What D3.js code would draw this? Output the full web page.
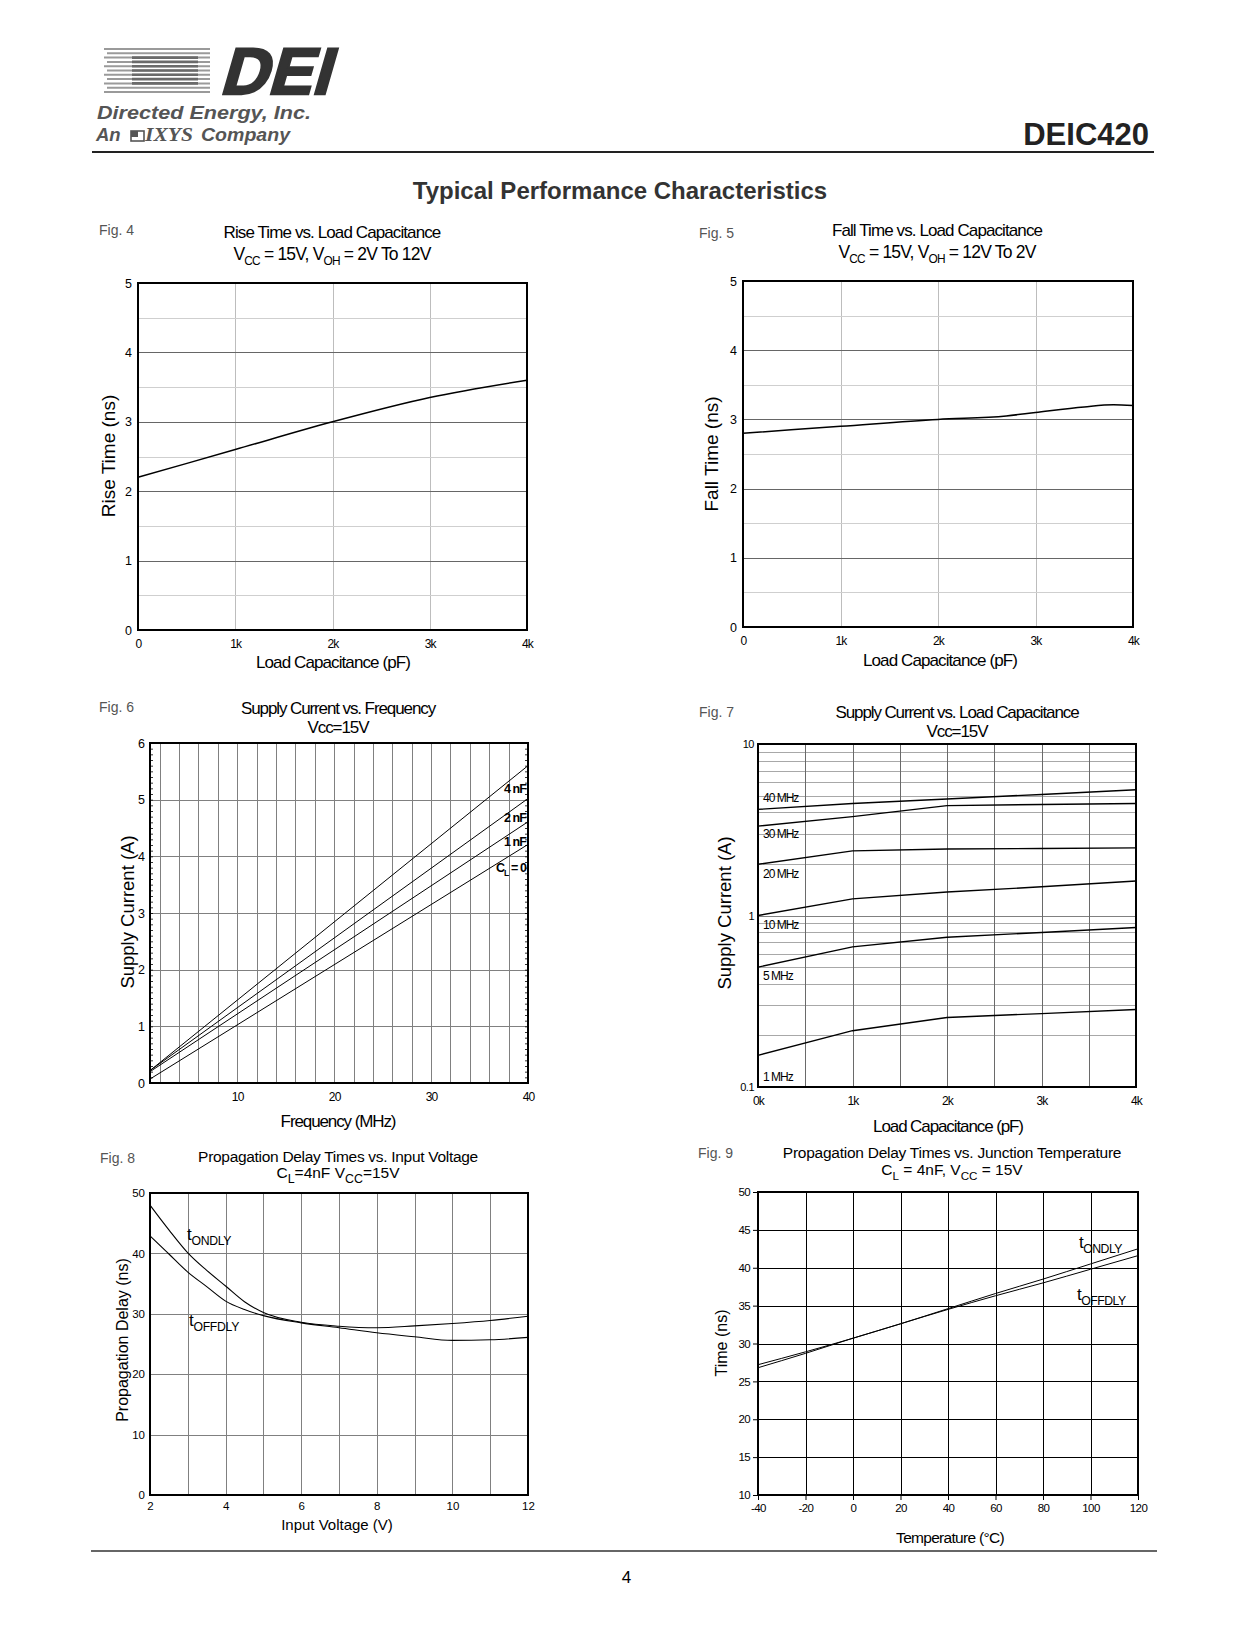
<!DOCTYPE html>
<html><head><meta charset="utf-8">
<script src="https://cdn.jsdelivr.net/npm/d3@7"></script>
<style>body{margin:0;background:#fff}svg{display:block}</style>
</head><body>
<script>
// ---------------- DATA ----------------
// Fig 4: Rise time vs load capacitance
const riseCap = [0, 1000, 2000, 3000, 4000];
const riseTime = [2.2, 2.6, 3.0, 3.35, 3.6];
// Fig 5: Fall time vs load capacitance
const fallCap = [0, 1000, 2000, 2700, 3000, 3500, 3800, 4000];
const fallTime = [2.8, 2.9, 3.0, 3.05, 3.1, 3.18, 3.21, 3.2];
// Fig 6: Supply current vs frequency (straight lines, end points)
const freqMHz = [1, 40];
const icc4nF = [0.22, 5.6];
const icc2nF = [0.22, 5.02];
const icc1nF = [0.2, 4.61];
const icc0nF = [0.07, 4.21];
const fig6Labels = ["4 nF", "2 nF", "1 nF", "CL = 0"];
// Fig 7: Supply current vs load capacitance
const loadCap7 = [0, 1000, 2000, 3000, 4000];
const icc40MHz = [4.16, 4.5, 4.78, 5.08, 5.41];
const icc30MHz = [3.32, 3.77, 4.37, 4.44, 4.5];
const icc20MHz = [1.99, 2.38, 2.44, 2.46, 2.48];
const icc10MHz = [1.0, 1.25, 1.37, 1.47, 1.59];
const icc5MHz = [0.5, 0.656, 0.747, 0.796, 0.851];
const icc1MHz = [0.153, 0.213, 0.254, 0.268, 0.283];
const fig7Labels = ["40 MHz", "30 MHz", "20 MHz", "10 MHz", "5 MHz", "1 MHz"];
const fig7XTicks = ["0k", "1k", "2k", "3k", "4k"];
// Fig 8: Propagation delay vs input voltage
const vin = [2, 2.5, 3, 3.5, 4, 4.5, 5, 6, 7, 8, 9, 10, 11, 12];
const tOnV = [48, 43.9, 40.1, 37.2, 34.6, 32.0, 30.2, 28.6, 27.95, 27.7, 28.0, 28.4, 28.9, 29.6];
const tOffV = [42.9, 39.9, 36.9, 34.5, 32.1, 30.7, 29.7, 28.5, 27.7, 26.85, 26.2, 25.6, 25.7, 26.1];
// Fig 9: Propagation delay vs junction temperature
const tempC = [-40, -20, 0, 20, 40, 60, 80, 100, 120];
const tOnT = [26.8, 28.7, 30.7, 32.6, 34.6, 36.6, 38.5, 40.5, 42.5];
const tOffT = [27.2, 28.9, 30.7, 32.6, 34.5, 36.3, 38.0, 39.8, 41.6];
// Tick labels
const capTicks = [0, 1000, 2000, 3000, 4000];
const capTickLabels = ["0", "1k", "2k", "3k", "4k"];

// ---------------- HELPERS ----------------
const FONT = "'Liberation Sans', Arial, Helvetica, sans-serif";
const svg = d3.select("body").append("svg").attr("width", 1240).attr("height", 1648);

function txt(x, y, s, o = {}) {
  const t = svg.append("text").attr("x", x).attr("y", y)
    .attr("font-family", o.family || FONT)
    .attr("font-size", o.size || 12)
    .attr("fill", o.fill || "#000")
    .attr("text-anchor", o.anchor || "start");
  if (o.weight) t.attr("font-weight", o.weight);
  if (o.style) t.attr("font-style", o.style);
  if (o.ls !== undefined) t.attr("letter-spacing", o.ls);
  if (o.rotate) t.attr("transform", `rotate(-90 ${x} ${y})`);
  if (o.len) t.attr("textLength", o.len).attr("lengthAdjust", "spacingAndGlyphs");
  t.text(s);
  return t;
}
// parts: [[text, sub?]]
function rich(x, y, parts, o = {}) {
  const t = svg.append("text").attr("x", x).attr("y", y)
    .attr("font-family", FONT).attr("font-size", o.size || 12)
    .attr("fill", o.fill || "#000").attr("text-anchor", o.anchor || "start");
  if (o.weight) t.attr("font-weight", o.weight);
  if (o.ls !== undefined) t.attr("letter-spacing", o.ls);
  const sz = o.size || 12;
  const subScale = o.sub || 0.68;
  let down = false;
  parts.forEach(([s, sub]) => {
    const ts = t.append("tspan").text(s);
    if (sub && !down) { ts.attr("dy", sz * 0.3).attr("font-size", sz * subScale); down = true; }
    else if (sub) { ts.attr("font-size", sz * subScale); }
    else if (!sub && down) { ts.attr("dy", -sz * 0.3); down = false; }
  });
  return t;
}
function hGrid(g, x, y, values, color, w) {
  const gg = g.append("g").attr("transform", `translate(${x.range()[0]},0)`)
    .call(d3.axisLeft(y).tickValues(values).tickSize(-(x.range()[1] - x.range()[0])).tickFormat(""));
  gg.select(".domain").remove();
  gg.selectAll("line").attr("stroke", color).attr("stroke-width", w).attr("shape-rendering", "crispEdges");
}
function vGrid(g, x, y, values, color, w) {
  const gg = g.append("g").attr("transform", `translate(0,${y.range()[1]})`)
    .call(d3.axisBottom(x).tickValues(values).tickSize(y.range()[0] - y.range()[1]).tickFormat(""));
  gg.select(".domain").remove();
  gg.selectAll("line").attr("stroke", color).attr("stroke-width", w).attr("shape-rendering", "crispEdges");
}
function frame(g, x, y, w = 1.2) {
  g.append("rect").attr("x", x.range()[0]).attr("y", y.range()[1])
    .attr("width", x.range()[1] - x.range()[0]).attr("height", y.range()[0] - y.range()[1])
    .attr("fill", "none").attr("stroke", "#000").attr("stroke-width", w).attr("shape-rendering", "crispEdges");
}
function yLabels(g, x, y, values, fmt, o) {
  const gg = g.append("g").attr("transform", `translate(${x.range()[0]},0)`)
    .call(d3.axisLeft(y).tickValues(values).tickFormat(fmt).tickSize(o.tick || 0).tickPadding(o.pad || 5));
  gg.select(".domain").remove();
  gg.selectAll("line").attr("stroke", "#000");
  gg.selectAll("text").attr("font-family", FONT).attr("font-size", o.size || 12)
    .attr("fill", "#000").attr("letter-spacing", o.ls || 0);
}
function xLabels(g, x, y, values, fmt, o) {
  const gg = g.append("g").attr("transform", `translate(0,${y.range()[0]})`)
    .call(d3.axisBottom(x).tickValues(values).tickFormat(fmt).tickSize(o.tick || 0).tickPadding(o.pad || 8));
  gg.select(".domain").remove();
  gg.selectAll("line").attr("stroke", "#000");
  gg.selectAll("text").attr("font-family", FONT).attr("font-size", o.size || 12)
    .attr("fill", "#000").attr("letter-spacing", o.ls || 0);
}
function curve(g, x, y, xs, vs, o = {}) {
  const data = xs.map((d, i) => [d, vs[i]]);
  g.append("path").datum(data)
    .attr("d", d3.line().x(d => x(d[0])).y(d => y(d[1])).curve(o.curve || d3.curveMonotoneX))
    .attr("fill", "none").attr("stroke", o.color || "#000").attr("stroke-width", o.w || 1.3);
}
const plain = d => String(d);

// ---------------- HEADER ----------------
(function logo() {
  const g = svg.append("g");
  const ys = d3.range(0, 11).map(i => 49 + i * 4.3);
  ys.forEach((yy, i) => {
    const mid = i >= 2 && i <= 8;
    g.append("line").attr("x1", 104 + (i % 2) * 3).attr("x2", 210).attr("y1", yy).attr("y2", yy)
      .attr("stroke", "#9a9a9a").attr("stroke-width", 2);
    if (mid) g.append("line").attr("x1", 132).attr("x2", 198).attr("y1", yy).attr("y2", yy)
      .attr("stroke", "#6a6a6a").attr("stroke-width", 2.6);
  });
  txt(0, 0, "DEI", { size: 66, weight: "bold", fill: "#333", len: 110 })
    .attr("transform", "translate(219,94) skewX(-16)")
    .attr("stroke", "#333").attr("stroke-width", 2.4);
  txt(97, 119, "Directed Energy, Inc.", { size: 18.5, weight: "bold", style: "italic", fill: "#555", len: 214 });
  txt(96, 141, "An", { size: 18.5, weight: "bold", style: "italic", fill: "#555" });
  g.append("rect").attr("x", 131).attr("y", 131).attr("width", 13).attr("height", 10)
    .attr("fill", "none").attr("stroke", "#555").attr("stroke-width", 1.6);
  g.append("rect").attr("x", 131).attr("y", 131).attr("width", 7).attr("height", 6).attr("fill", "#555");
  txt(145, 141, "IXYS", { size: 18.5, weight: "bold", style: "italic", fill: "#555",
    family: "'Liberation Serif', 'Times New Roman', serif", len: 48 });
  txt(201, 141, "Company", { size: 18.5, weight: "bold", style: "italic", fill: "#555", len: 89 });
  txt(1149, 145, "DEIC420", { size: 31, weight: "bold", fill: "#222", anchor: "end" });
  svg.append("line").attr("x1", 92).attr("x2", 1154).attr("y1", 152).attr("y2", 152)
    .attr("stroke", "#222").attr("stroke-width", 2.2);
  txt(620, 199, "Typical Performance Characteristics", { size: 24, weight: "bold", fill: "#333", anchor: "middle" });
})();

// ---------------- FIG 4 ----------------
(function () {
  const g = svg.append("g");
  const x = d3.scaleLinear().domain([0, 4000]).range([138, 527]);
  const y = d3.scaleLinear().domain([0, 5]).range([630, 283]);
  vGrid(g, x, y, [1000, 2000, 3000], "#bdbdbd", 1);
  hGrid(g, x, y, [0.5, 1.5, 2.5, 3.5, 4.5], "#cfcfcf", 1);
  hGrid(g, x, y, [1, 2, 3, 4], "#666", 1);
  frame(g, x, y);
  curve(g, x, y, riseCap, riseTime, { w: 1.5 });
  yLabels(g, x, y, [0, 1, 2, 3, 4, 5], d3.format("d"), { size: 12.5, pad: 6 });
  xLabels(g, x, y, capTicks, (d, i) => capTickLabels[i], { size: 12, pad: 9, ls: -0.8 });
  txt(99, 235, "Fig. 4", { size: 14, fill: "#555" });
  txt(332, 238, "Rise Time vs. Load Capacitance", { size: 17, anchor: "middle", ls: -0.9 });
  rich(332, 260, [["V"], ["CC", 1], [" = 15V, V"], ["OH", 1], [" = 2V To 12V"]], { size: 17.5, anchor: "middle", ls: -0.8 });
  txt(108, 456, "Rise Time (ns)", { size: 19, anchor: "middle", rotate: true }).attr("dy", 7);
  txt(333, 668, "Load Capacitance (pF)", { size: 17, anchor: "middle", ls: -0.9 });
})();

// ---------------- FIG 5 ----------------
(function () {
  const g = svg.append("g");
  const x = d3.scaleLinear().domain([0, 4000]).range([743, 1133]);
  const y = d3.scaleLinear().domain([0, 5]).range([627, 281]);
  vGrid(g, x, y, [1000, 2000, 3000], "#bdbdbd", 1);
  hGrid(g, x, y, [0.5, 1.5, 2.5, 3.5, 4.5], "#cfcfcf", 1);
  hGrid(g, x, y, [1, 2, 3, 4], "#666", 1);
  frame(g, x, y);
  curve(g, x, y, fallCap, fallTime, { w: 1.5 });
  yLabels(g, x, y, [0, 1, 2, 3, 4, 5], d3.format("d"), { size: 12.5, pad: 6 });
  xLabels(g, x, y, capTicks, (d, i) => capTickLabels[i], { size: 12, pad: 9, ls: -0.8 });
  txt(699, 238, "Fig. 5", { size: 14, fill: "#555" });
  txt(937, 236, "Fall Time vs. Load Capacitance", { size: 17, anchor: "middle", ls: -0.9 });
  rich(937, 258, [["V"], ["CC", 1], [" = 15V, V"], ["OH", 1], [" = 12V To 2V"]], { size: 17.5, anchor: "middle", ls: -0.8 });
  txt(711, 454, "Fall Time (ns)", { size: 19, anchor: "middle", rotate: true }).attr("dy", 7);
  txt(940, 666, "Load Capacitance (pF)", { size: 17, anchor: "middle", ls: -0.9 });
})();

// ---------------- FIG 6 ----------------
(function () {
  const g = svg.append("g");
  const x = d3.scaleLinear().domain([1, 40]).range([150, 528]);
  const y = d3.scaleLinear().domain([0, 6]).range([1083, 743]);
  vGrid(g, x, y, d3.range(2, 40, 2), "#808080", 1);
  hGrid(g, x, y, [1, 2, 3, 4, 5], "#808080", 1);
  const minor = d3.range(0, 6.0001, 0.1);
  const gl = g.append("g").attr("transform", `translate(${x.range()[0]},0)`)
    .call(d3.axisRight(y).tickValues(minor).tickSize(3).tickFormat(""));
  gl.select(".domain").remove();
  gl.selectAll("line").attr("stroke", "#000").attr("stroke-width", 0.8);
  const gr = g.append("g").attr("transform", `translate(${x.range()[1]},0)`)
    .call(d3.axisLeft(y).tickValues(minor).tickSize(3).tickFormat(""));
  gr.select(".domain").remove();
  gr.selectAll("line").attr("stroke", "#000").attr("stroke-width", 0.8);
  frame(g, x, y);
  [icc4nF, icc2nF, icc1nF, icc0nF].forEach(s => curve(g, x, y, freqMHz, s, { w: 1, curve: d3.curveLinear }));
  yLabels(g, x, y, [0, 1, 2, 3, 4, 5, 6], d3.format("d"), { size: 12.5, pad: 5 });
  xLabels(g, x, y, [10, 20, 30, 40], d3.format("d"), { size: 12, pad: 9, ls: -0.8 });
  const lx = 526, ly = [789, 818, 842, 868];
  txt(lx, ly[0] + 4, fig6Labels[0], { size: 12.5, weight: "bold", anchor: "end", ls: -0.9 });
  txt(lx, ly[1] + 4, fig6Labels[1], { size: 12.5, weight: "bold", anchor: "end", ls: -0.9 });
  txt(lx, ly[2] + 4, fig6Labels[2], { size: 12.5, weight: "bold", anchor: "end", ls: -0.9 });
  rich(lx, ly[3] + 4, [["C"], ["L", 1], [" = 0"]], { size: 12.5, weight: "bold", anchor: "end", ls: -0.9 });
  txt(99, 712, "Fig. 6", { size: 14, fill: "#555" });
  txt(338, 714, "Supply Current vs. Frequency", { size: 17, anchor: "middle", ls: -1.1 });
  txt(338, 733, "Vcc=15V", { size: 17, anchor: "middle", ls: -1.1 });
  txt(127, 912, "Supply Current (A)", { size: 18.5, anchor: "middle", rotate: true }).attr("dy", 7);
  txt(338, 1127, "Frequency (MHz)", { size: 17, anchor: "middle", ls: -1.1 });
})();

// ---------------- FIG 7 ----------------
(function () {
  const g = svg.append("g");
  const x = d3.scaleLinear().domain([0, 4000]).range([758, 1136]);
  const y = d3.scaleLog().domain([0.1, 10]).range([1087, 744]);
  const minorY = [];
  [0.1, 1].forEach(dec => d3.range(2, 10).forEach(k => minorY.push(dec * k)));
  hGrid(g, x, y, minorY, "#a8a8a8", 1);
  hGrid(g, x, y, [1], "#808080", 1);
  vGrid(g, x, y, d3.range(500, 4000, 500), "#6a6a6a", 1);
  frame(g, x, y);
  const series = [icc40MHz, icc30MHz, icc20MHz, icc10MHz, icc5MHz, icc1MHz];
  series.forEach(s => curve(g, x, y, loadCap7, s, { w: 1.4, curve: d3.curveLinear }));
  yLabels(g, x, y, [0.1, 1, 10], d => d < 1 ? "0.1" : d3.format("d")(d), { size: 11, pad: 4, ls: -0.5 });
  xLabels(g, x, y, capTicks, (d, i) => fig7XTicks[i], { size: 12, pad: 9, ls: -0.8 });
  const labY = [798, 834, 874, 925, 976, 1077];
  fig7Labels.forEach((l, i) => txt(763, labY[i] + 4, l, { size: 12, ls: -1 }));
  txt(699, 717, "Fig. 7", { size: 14, fill: "#555" });
  txt(957, 718, "Supply Current vs. Load Capacitance", { size: 17, anchor: "middle", ls: -1.1 });
  txt(957, 737, "Vcc=15V", { size: 17, anchor: "middle", ls: -1.1 });
  txt(724, 913, "Supply Current (A)", { size: 18.5, anchor: "middle", rotate: true }).attr("dy", 7);
  txt(948, 1132, "Load Capacitance (pF)", { size: 17, anchor: "middle", ls: -1.1 });
})();

// ---------------- FIG 8 ----------------
(function () {
  const g = svg.append("g");
  const x = d3.scaleLinear().domain([2, 12]).range([150, 528]);
  const y = d3.scaleLinear().domain([0, 50]).range([1495, 1193]);
  vGrid(g, x, y, d3.range(3, 12, 1), "#808080", 1);
  hGrid(g, x, y, [10, 20, 30, 40], "#808080", 1);
  frame(g, x, y);
  curve(g, x, y, vin, tOnV, { w: 1.1 });
  curve(g, x, y, vin, tOffV, { w: 1.1 });
  yLabels(g, x, y, [0, 10, 20, 30, 40, 50], d3.format("d"), { size: 11.5, pad: 5 });
  xLabels(g, x, y, [2, 4, 6, 8, 10, 12], d3.format("d"), { size: 11.5, pad: 7 });
  rich(187, 1240, [["t"], ["ONDLY", 1]], { size: 17, sub: 0.72, ls: -0.3 });
  rich(189, 1326, [["t"], ["OFFDLY", 1]], { size: 17, sub: 0.72, ls: -0.3 });
  txt(100, 1163, "Fig. 8", { size: 14, fill: "#555" });
  txt(338, 1162, "Propagation Delay Times vs. Input Voltage", { size: 15.5, anchor: "middle", ls: -0.3 });
  rich(338, 1178, [["C"], ["L", 1], ["=4nF  V"], ["CC", 1], ["=15V"]], { size: 15.5, anchor: "middle", sub: 0.8 });
  txt(122, 1340, "Propagation Delay (ns)", { size: 16, anchor: "middle", rotate: true }).attr("dy", 6);
  txt(337, 1530, "Input Voltage (V)", { size: 15, anchor: "middle" });
})();

// ---------------- FIG 9 ----------------
(function () {
  const g = svg.append("g");
  const x = d3.scaleLinear().domain([-40, 120]).range([758, 1138]);
  const y = d3.scaleLinear().domain([10, 50]).range([1495, 1192]);
  vGrid(g, x, y, d3.range(-20, 120, 20), "#000", 1);
  hGrid(g, x, y, d3.range(15, 50, 5), "#000", 1);
  frame(g, x, y);
  curve(g, x, y, tempC, tOnT, { w: 1 });
  curve(g, x, y, tempC, tOffT, { w: 1 });
  yLabels(g, x, y, d3.range(10, 51, 5), plain, { size: 11.5, pad: 3, tick: 5, ls: -0.6 });
  xLabels(g, x, y, d3.range(-40, 121, 20), plain, { size: 11.5, pad: 4, tick: 5, ls: -0.6 });
  rich(1079, 1248, [["t"], ["ONDLY", 1]], { size: 17, ls: -0.5, sub: 0.72 });
  rich(1077, 1300, [["t"], ["OFFDLY", 1]], { size: 17, ls: -0.5, sub: 0.72 });
  txt(698, 1158, "Fig. 9", { size: 14, fill: "#555" });
  txt(952, 1158, "Propagation Delay Times vs. Junction Temperature", { size: 15.5, anchor: "middle", ls: -0.25 });
  rich(952, 1175, [["C"], ["L", 1], [" = 4nF, V"], ["CC", 1], [" = 15V"]], { size: 15.5, anchor: "middle", sub: 0.75 });
  txt(721, 1343, "Time (ns)", { size: 16, anchor: "middle", rotate: true }).attr("dy", 6);
  txt(950, 1543, "Temperature (°C)", { size: 15.5, anchor: "middle", ls: -0.7 });
})();

// ---------------- FOOTER ----------------
svg.append("line").attr("x1", 91).attr("x2", 1157).attr("y1", 1551).attr("y2", 1551)
  .attr("stroke", "#333").attr("stroke-width", 1.4);
txt(626, 1583, "4", { size: 17, anchor: "middle", ls: -1 });
</script>
</body></html>
